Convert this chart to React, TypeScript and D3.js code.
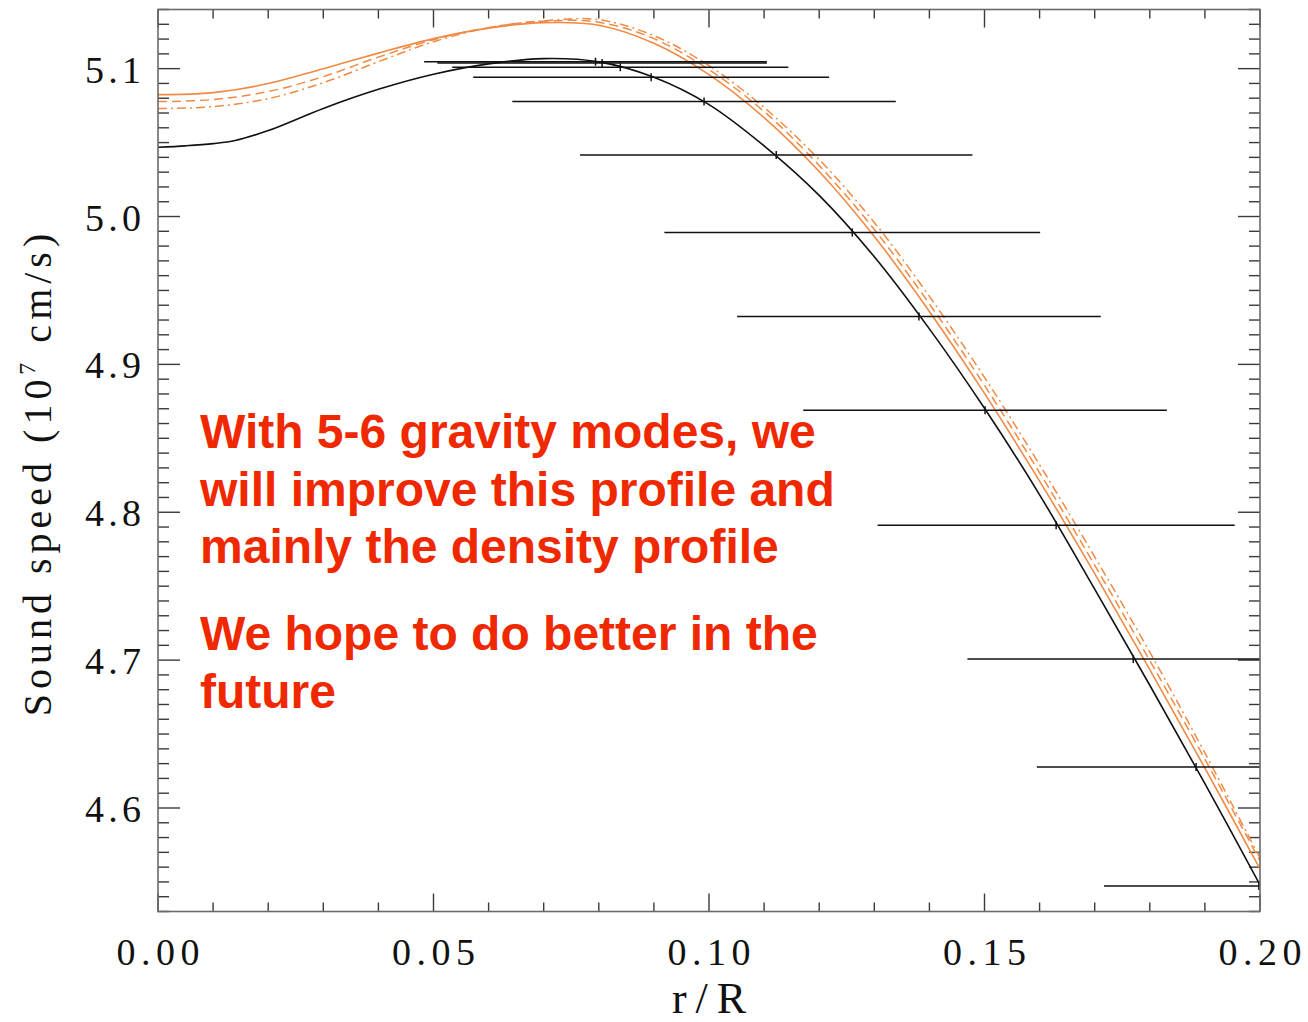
import React from "react";
import * as d3 from "d3";

// Radial grid (r/R) for the seismic solar model profile
const modelRadius = [0, 0.005, 0.01, 0.014, 0.02, 0.03, 0.04, 0.05, 0.06, 0.07, 0.08, 0.09, 0.1, 0.11, 0.12, 0.13, 0.14, 0.15, 0.16, 0.17, 0.18, 0.19, 0.2];
// Seismic model sound speed (10^7 cm/s)
const seismicSpeed = [5.0468, 5.0478, 5.0493, 5.0514, 5.0581, 5.0731, 5.086, 5.0962, 5.1032, 5.1068, 5.1046, 5.0942, 5.0757, 5.0478, 5.0143, 4.9728, 4.924, 4.8703, 4.8118, 4.748, 4.683, 4.6165, 4.548];

// Radial grid for the standard-model variants
const variantRadius = [0, 0.01, 0.02, 0.03, 0.04, 0.05, 0.06, 0.07, 0.08, 0.09, 0.1, 0.11, 0.12, 0.13, 0.14, 0.15, 0.16, 0.17, 0.18, 0.19, 0.2];
const variantSolid = [5.0824, 5.0838, 5.0899, 5.1, 5.1105, 5.1203, 5.1274, 5.1311, 5.1294, 5.1172, 5.096, 5.0669, 5.0304, 4.9865, 4.9358, 4.8804, 4.821, 4.7585, 4.6936, 4.627, 4.5588];
const variantDashed = [5.0777, 5.0791, 5.0845, 5.0946, 5.1078, 5.1196, 5.1277, 5.1321, 5.1314, 5.1203, 5.0993, 5.071, 5.0345, 4.9912, 4.9409, 4.8858, 4.8267, 4.7642, 4.6997, 4.6331, 4.5642];
const variantDashDot = [5.073, 5.0743, 5.0797, 5.0905, 5.1047, 5.1182, 5.1277, 5.1324, 5.1331, 5.1223, 5.102, 5.0737, 5.0385, 4.996, 4.946, 4.8912, 4.8321, 4.7699, 4.7054, 4.6372, 4.5662];

// Inverted sound speed with horizontal resolution bars
const invRadius = [0.0794, 0.0806, 0.0839, 0.0895, 0.0991, 0.1122, 0.126, 0.1381, 0.1501, 0.163, 0.177, 0.1884, 0.1998];
const invSpeed = [5.1047, 5.1039, 5.1009, 5.0941, 5.0777, 5.0416, 4.9892, 4.9324, 4.8689, 4.7912, 4.7007, 4.6277, 4.5473];
const invHalfWidth = [0.0311, 0.0299, 0.0305, 0.0323, 0.0348, 0.0356, 0.0341, 0.033, 0.033, 0.0324, 0.0301, 0.0289, 0.0281];

const noteLines = [
  "With 5-6 gravity modes, we",
  "will improve this profile and",
  "mainly the density profile",
];
const hopeLines = ["We hope to do better in the", "future"];

const W = 1308;
const H = 1022;
const left = 158;
const right = 1260;
const top = 9.5;
const bottom = 911.5;

const serif = "'Liberation Serif', 'DejaVu Serif', serif";
const orange = "#f08a45";

export default function App() {
  const x = d3.scaleLinear().domain([0, 0.2]).range([left, right]);
  const y = d3.scaleLinear().domain([4.53, 5.14]).range([bottom, top]);

  const lineOf = (xs: number[], ys: number[]) =>
    d3
      .line<number>()
      .x((_, i) => x(xs[i]))
      .y((v) => y(v))
      .curve(d3.curveCatmullRom.alpha(0.5))(ys) as string;

  const xMinor = d3.ticks(0, 0.2, 20);
  const xMajor = d3.ticks(0, 0.2, 4);
  const yMinor = d3.ticks(4.53, 5.14, 61);
  const yMajor = d3.ticks(4.53, 5.14, 6);
  const fx = d3.format(".2f");
  const fy = d3.format(".1f");

  const tickColor = "#3a3a3a";
  const frameColor = "#6a6a6a";

  return (
    <svg width={W} height={H} style={{ position: "absolute", left: 0, top: 0, background: "#fff" }}>
      <defs>
        <clipPath id="plotClip">
          <rect x={left} y={top} width={right - left} height={bottom - top} />
        </clipPath>
      </defs>
      <rect x={0} y={0} width={W} height={H} fill="#fff" />

      {/* ticks on all four sides */}
      <g stroke={tickColor} strokeWidth={1.4}>
        {xMinor.map((t) => {
          const major = xMajor.some((m) => Math.abs(m - t) < 1e-9);
          const len = major ? 18 : 9;
          return (
            <g key={"xt" + t}>
              <line x1={x(t)} x2={x(t)} y1={bottom} y2={bottom - len} />
              <line x1={x(t)} x2={x(t)} y1={top} y2={top + len} />
            </g>
          );
        })}
        {yMinor.map((t) => {
          const major = yMajor.some((m) => Math.abs(m - t) < 1e-9);
          const len = major ? 22 : 11;
          return (
            <g key={"yt" + t}>
              <line x1={left} x2={left + len} y1={y(t)} y2={y(t)} />
              <line x1={right} x2={right - len} y1={y(t)} y2={y(t)} />
            </g>
          );
        })}
      </g>

      <g clipPath="url(#plotClip)" fill="none">
        <path d={lineOf(variantRadius, variantDashDot)} stroke={orange} strokeWidth={1.5} strokeDasharray="9 4 2 4" />
        <path d={lineOf(variantRadius, variantDashed)} stroke={orange} strokeWidth={1.5} strokeDasharray="9 5" />
        <path d={lineOf(variantRadius, variantSolid)} stroke={orange} strokeWidth={1.6} />
        <path d={lineOf(modelRadius, seismicSpeed)} stroke="#111" strokeWidth={1.6} />
        {invRadius.map((r, i) => (
          <g key={"eb" + i} stroke="#111" strokeWidth={1.5}>
            <line x1={x(r - invHalfWidth[i])} x2={x(r + invHalfWidth[i])} y1={y(invSpeed[i])} y2={y(invSpeed[i])} />
            <line x1={x(r)} x2={x(r)} y1={y(invSpeed[i]) - 4} y2={y(invSpeed[i]) + 4} />
          </g>
        ))}
      </g>

      <rect x={left} y={top} width={right - left} height={bottom - top} fill="none" stroke={frameColor} strokeWidth={1.6} />

      {/* tick labels */}
      <g fontFamily={serif} fontSize={38} fill="#111">
        {xMajor.map((t) => (
          <text key={"xl" + t} x={x(t)} y={965} textAnchor="middle" textLength={83} lengthAdjust="spacing">
            {fx(t)}
          </text>
        ))}
        {yMajor.map((t) => (
          <text key={"yl" + t} x={141} y={y(t) + 14} textAnchor="end" textLength={56} lengthAdjust="spacing">
            {fy(t)}
          </text>
        ))}
      </g>

      {/* axis titles */}
      <text
        x={(left + right) / 2}
        y={1013}
        textAnchor="middle"
        fontFamily={serif}
        fontSize={44}
        fill="#111"
        textLength={74}
        lengthAdjust="spacing"
      >
        r/R
      </text>
      <text
        transform={`translate(51,${(top + bottom) / 2 + 12}) rotate(-90)`}
        textAnchor="middle"
        fontFamily={serif}
        fontSize={40}
        fill="#111"
        letterSpacing={5}
      >
        Sound speed (10
        <tspan fontSize={24} dy={-16}>7</tspan>
        <tspan dy={16}> cm/s)</tspan>
      </text>

      {/* annotation */}
      <g fontFamily="'Liberation Sans', Arial, sans-serif" fontWeight="bold" fontSize={48} fill="#f02800">
        {noteLines.map((s, i) => (
          <text key={"n" + i} x={200} y={448 + i * 57.5}>
            {s}
          </text>
        ))}
        {hopeLines.map((s, i) => (
          <text key={"h" + i} x={200} y={650 + i * 57.5}>
            {s}
          </text>
        ))}
      </g>
    </svg>
  );
}
